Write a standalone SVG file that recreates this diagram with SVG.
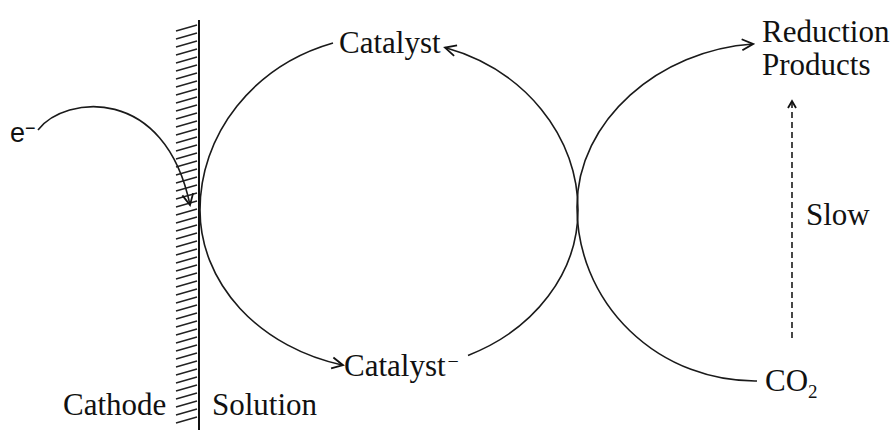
<svg xmlns="http://www.w3.org/2000/svg" width="896" height="430" viewBox="0 0 896 430">
<style>
.ln{fill:none;stroke:#1a1a1a;stroke-width:1.6}
.lbl{font-family:"Liberation Serif","Times New Roman",serif;font-size:31px;fill:#111}
.sans{font-family:"Liberation Sans",Arial,sans-serif;fill:#111}
</style>
<defs>
<marker id="arr" viewBox="-13 -8 15 16" refX="0" refY="0" markerWidth="15" markerHeight="16" markerUnits="userSpaceOnUse" orient="auto">
<path d="M-11,-5.5 L0,0 L-11,5.5" fill="none" stroke="#111" stroke-width="1.8"/>
</marker>
<marker id="arrs" viewBox="-10 -6 12 12" refX="0" refY="0" markerWidth="12" markerHeight="12" markerUnits="userSpaceOnUse" orient="auto">
<path d="M-7,-4 L0,0 L-7,4" fill="none" stroke="#111" stroke-width="1.8"/>
</marker>
</defs>
<rect width="896" height="430" fill="#fff"/>
<g id="cathode">
<line x1="199" y1="20" x2="199" y2="430" stroke="#111" stroke-width="2"/>
<path fill="none" stroke="#222" stroke-width="1.5" d="M176,31 l21,-6 m-21,14 l21,-6 m-21,14 l21,-6 m-21,14 l21,-6 m-21,14 l21,-6 m-21,14 l21,-6 m-21,14 l21,-6 m-21,14 l21,-6 m-21,14 l21,-6 m-21,14 l21,-6 m-21,14 l21,-6 m-21,14 l21,-6 m-21,14 l21,-6 m-21,14 l21,-6 m-21,14 l21,-6 m-21,14 l21,-6 m-21,14 l21,-6 m-21,14 l21,-6 m-21,14 l21,-6 m-21,14 l21,-6 m-21,14 l21,-6 m-21,14 l21,-6 m-21,14 l21,-6 m-21,14 l21,-6 m-21,14 l21,-6 m-21,14 l21,-6 m-21,14 l21,-6 m-21,14 l21,-6 m-21,14 l21,-6 m-21,14 l21,-6 m-21,14 l21,-6 m-21,14 l21,-6 m-21,14 l21,-6 m-21,14 l21,-6 m-21,14 l21,-6 m-21,14 l21,-6 m-21,14 l21,-6 m-21,14 l21,-6 m-21,14 l21,-6 m-21,14 l21,-6 m-21,14 l21,-6 m-21,14 l21,-6 m-21,14 l21,-6 m-21,14 l21,-6 m-21,14 l21,-6 m-21,14 l21,-6 m-21,14 l21,-6 m-21,14 l21,-6 m-21,14 l21,-6 m-21,14 l21,-6"/>
<text class="lbl" x="63" y="415">Cathode</text>
<text class="lbl" x="212" y="415">Solution</text>
</g>
<g id="electron">
<text class="sans" x="10" y="142" font-size="27">e<tspan font-size="18" dy="-8">−</tspan></text>
</g>
<g id="catalyst">
<text class="lbl" x="339" y="53">Catalyst</text>
</g>
<g id="catalyst-reduced">
<text class="lbl" x="344" y="376">Catalyst<tspan font-size="20" dx="2" dy="-8">−</tspan></text>
</g>
<g id="products">
<text class="lbl" x="762" y="42">Reduction</text>
<text class="lbl" x="762" y="75">Products</text>
</g>
<g id="co2">
<text class="lbl" x="765" y="391">CO<tspan font-size="19" dy="7">2</tspan></text>
</g>
<g id="slow">
<text class="lbl" x="806" y="225">Slow</text>
</g>
<g id="connectors">
<path class="ln" d="M38,130 C65,95 165,85 190,205" marker-end="url(#arr)"/>
<path class="ln" d="M200,210 A189,175 0 0,1 333,42.9"/>
<path class="ln" d="M578,210 A189,170 0 0,0 445,47.6" marker-end="url(#arr)"/>
<path class="ln" d="M200,210 A189,160 0 0,0 343,365.2" marker-end="url(#arr)"/>
<path class="ln" d="M578,210 A189,160 0 0,1 468,355.4"/>
<path class="ln" d="M577,207 C577,120 660,50 753,44" marker-end="url(#arr)"/>
<path class="ln" d="M577,207 A178,174 0 0,0 757,381"/>
<path class="ln" d="M792,338 L792,101" stroke-dasharray="6 4" marker-end="url(#arrs)"/>
</g>
</svg>
